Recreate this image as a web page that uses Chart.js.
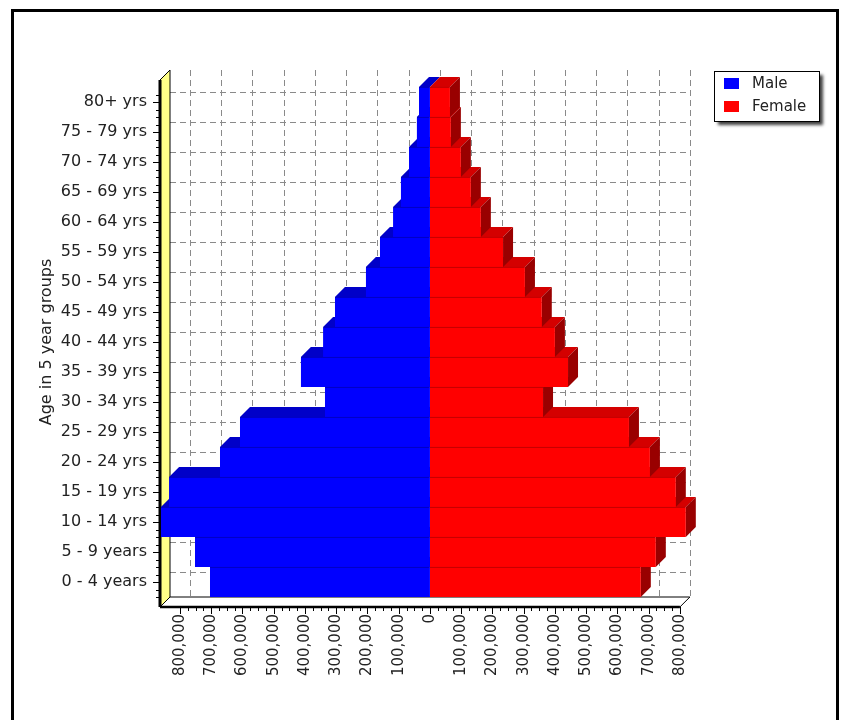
<!DOCTYPE html>
<html>
<head>
<meta charset="utf-8">
<script src="https://cdn.jsdelivr.net/npm/chart.js@4.4.1/dist/chart.umd.min.js"></script>
<style>
  html, body { margin: 0; padding: 0; background: #fff; }
  #wrap { width: 841px; height: 720px; }
</style>
</head>
<body>
<div id="wrap"><canvas id="chart" width="841" height="720"></canvas></div>
<script>
const ageGroups = [
  "80+ yrs", "75 - 79 yrs", "70 - 74 yrs", "65 - 69 yrs", "60 - 64 yrs",
  "55 - 59 yrs", "50 - 54 yrs", "45 - 49 yrs", "40 - 44 yrs", "35 - 39 yrs",
  "30 - 34 yrs", "25 - 29 yrs", "20 - 24 yrs", "15 - 19 yrs", "10 - 14 yrs",
  "5 - 9 years", "0 - 4 years",
];
const male = [35000, 42000, 67000, 93000, 118000, 160000, 205000, 304000, 342000,
  413000, 336000, 608000, 672000, 835000, 861000, 752000, 704000];
const female = [64000, 67000, 99000, 131000, 163000, 234000, 304000, 358000, 400000,
  442000, 362000, 637000, 704000, 787000, 819000, 723000, 675000];
const xTicks = [-800000, -700000, -600000, -500000, -400000, -300000, -200000, -100000, 0,
  100000, 200000, 300000, 400000, 500000, 600000, 700000, 800000];

const DEPTH = 10;
const FONT = "DejaVu Sans";

// back wall, floor, yellow side wall and the bar depth faces
const box3d = {
  id: "box3d",
  beforeDraw(chart) {
    const ctx = chart.ctx;
    ctx.save();
    ctx.strokeStyle = "#000";
    ctx.lineWidth = 3;
    ctx.strokeRect(12.5, 10.5, 825, 760);
    ctx.restore();
  },
  beforeDatasetsDraw(chart) {
    const ctx = chart.ctx;
    const a = chart.chartArea;
    const xs = chart.scales.x, ys = chart.scales.y;
    const d = DEPTH;
    const wallTop = a.top - 17;
    const right = xs.getPixelForValue(xTicks[xTicks.length - 1]);
    ctx.save();

    ctx.strokeStyle = "#8a8a8a";
    ctx.lineWidth = 1;
    ctx.setLineDash([6, 4]);
    xTicks.forEach((v) => {
      const x = Math.round(xs.getPixelForValue(v) + d) + 0.5;
      ctx.beginPath();
      ctx.moveTo(x, wallTop);
      ctx.lineTo(x, a.bottom);
      ctx.stroke();
    });
    ageGroups.forEach((g, i) => {
      const y = Math.round(ys.getPixelForValue(i) - d) + 0.5;
      ctx.beginPath();
      ctx.moveTo(a.left + d, y);
      ctx.lineTo(right + d, y);
      ctx.stroke();
    });
    ctx.setLineDash([]);

    // floor
    ctx.beginPath();
    ctx.moveTo(a.left, a.bottom + d);
    ctx.lineTo(a.left + d, a.bottom);
    ctx.lineTo(right + d, a.bottom);
    ctx.lineTo(right, a.bottom + d);
    ctx.closePath();
    ctx.fillStyle = "#fff";
    ctx.fill();
    ctx.strokeStyle = "#000";
    ctx.lineWidth = 1;
    ctx.stroke();
    ctx.lineWidth = 2.5;
    ctx.beginPath();
    ctx.moveTo(a.left, a.bottom + d);
    ctx.lineTo(right, a.bottom + d);
    ctx.stroke();

    // yellow wall
    ctx.beginPath();
    ctx.moveTo(a.left, wallTop + d);
    ctx.lineTo(a.left + d, wallTop);
    ctx.lineTo(a.left + d, a.bottom);
    ctx.lineTo(a.left, a.bottom + d);
    ctx.closePath();
    ctx.fillStyle = "#ffff88";
    ctx.fill();
    ctx.lineWidth = 1;
    ctx.stroke();
    ctx.lineWidth = 3;
    ctx.beginPath();
    ctx.moveTo(a.left, wallTop + d);
    ctx.lineTo(a.left, a.bottom + d);
    ctx.stroke();

    // tick marks
    ctx.lineWidth = 1;
    const yb = a.bottom + d;
    for (let v = xTicks[0]; v <= xTicks[xTicks.length - 1]; v += 25000) {
      const x = Math.round(xs.getPixelForValue(v)) + 0.5;
      const len = v % 100000 === 0 ? 7 : 4;
      ctx.beginPath();
      ctx.moveTo(x, yb);
      ctx.lineTo(x, yb + len);
      ctx.stroke();
    }
    const step = ys.getPixelForValue(1) - ys.getPixelForValue(0);
    ageGroups.forEach((g, i) => {
      const c = ys.getPixelForValue(i);
      [0, 0.25, 0.5, -0.25].forEach((f) => {
        const y = Math.round(c + f * step) + 0.5;
        const len = f === 0 ? 7 : 4;
        ctx.beginPath();
        ctx.moveTo(a.left - len, y);
        ctx.lineTo(a.left, y);
        ctx.stroke();
      });
    });

    // depth faces, bottom row first
    const mBars = chart.getDatasetMeta(0).data;
    const fBars = chart.getDatasetMeta(1).data;
    const poly = (pts, color) => {
      ctx.beginPath();
      ctx.moveTo(pts[0][0], pts[0][1]);
      for (let k = 1; k < pts.length; k++) ctx.lineTo(pts[k][0], pts[k][1]);
      ctx.closePath();
      ctx.fillStyle = color;
      ctx.fill();
    };
    for (let i = ageGroups.length - 1; i >= 0; i--) {
      const mb = mBars[i], fb = fBars[i];
      const top = mb.y - mb.height / 2;
      const bottom = mb.y + mb.height / 2;
      const zero = mb.base;
      poly([[mb.x, top], [mb.x + d, top - d], [zero + d, top - d], [zero, top]], "#0000c8");
      poly([[zero, top], [zero + d, top - d], [fb.x + d, top - d], [fb.x, top]], "#d40000");
      poly([[fb.x, top], [fb.x + d, top - d], [fb.x + d, bottom - d], [fb.x, bottom]], "#990000");
    }
    ctx.restore();
  },
  afterDraw(chart) {
    const ctx = chart.ctx;
    const a = chart.chartArea;
    const lx = a.right + 31, ly = 71, lw = 105, lh = 50;
    ctx.save();
    ctx.shadowColor = "rgba(0,0,0,0.75)";
    ctx.shadowBlur = 3;
    ctx.shadowOffsetX = 4;
    ctx.shadowOffsetY = 4;
    ctx.fillStyle = "#fff";
    ctx.fillRect(lx, ly, lw, lh);
    ctx.shadowColor = "transparent";
    ctx.strokeStyle = "#000";
    ctx.lineWidth = 1;
    ctx.strokeRect(lx + 0.5, ly + 0.5, lw, lh);
    ctx.font = "15px '" + FONT + "'";
    ctx.textBaseline = "middle";
    chart.data.datasets.forEach((ds, i) => {
      const y = ly + 13 + i * 23;
      ctx.fillStyle = ds.backgroundColor;
      ctx.fillRect(lx + 10, y - 6, 15, 11);
      ctx.fillStyle = "#222";
      ctx.fillText(ds.label, lx + 38, y);
    });
    ctx.restore();
  },
};

new Chart(document.getElementById("chart"), {
  type: "bar",
  data: {
    labels: ageGroups,
    datasets: [
      {
        label: "Male",
        data: male.map((v) => -v),
        backgroundColor: "#0000ff",
        borderColor: "#0000b4",
      },
      {
        label: "Female",
        data: female,
        backgroundColor: "#ff0000",
        borderColor: "#b40000",
      },
    ],
  },
  options: {
    indexAxis: "y",
    responsive: false,
    animation: false,
    devicePixelRatio: 1,
    layout: { padding: { top: 87, right: 158, bottom: 0, left: 0 } },
    datasets: {
      bar: {
        barPercentage: 1,
        categoryPercentage: 1,
        borderSkipped: false,
        borderWidth: { top: 1, bottom: 0, left: 0, right: 0 },
        clip: false,
      },
    },
    plugins: {
      legend: { display: false },
      tooltip: { enabled: false },
    },
    scales: {
      x: {
        stacked: true,
        min: -864000,
        max: 810000,
        grid: { display: false, drawTicks: false },
        border: { display: false },
        afterBuildTicks: (s) => {
          s.ticks = xTicks.map((v) => ({ value: v }));
        },
        afterFit: (s) => {
          s.height = 123;
        },
        ticks: {
          autoSkip: false,
          minRotation: 90,
          maxRotation: 90,
          padding: 17,
          color: "#222",
          font: { family: FONT, size: 15 },
          callback: (v) => Math.abs(v).toLocaleString("en-US"),
        },
      },
      y: {
        stacked: true,
        grid: { display: false, drawTicks: false },
        border: { display: false },
        afterFit: (s) => {
          s.width = 160;
        },
        ticks: {
          autoSkip: false,
          padding: 13,
          color: "#222",
          font: { family: FONT, size: 16 },
        },
        title: {
          display: true,
          text: "Age in 5 year groups",
          color: "#222",
          font: { family: FONT, size: 16 },
          padding: { top: 37, bottom: 0 },
        },
      },
    },
  },
  plugins: [box3d],
});
</script>
</body>
</html>
